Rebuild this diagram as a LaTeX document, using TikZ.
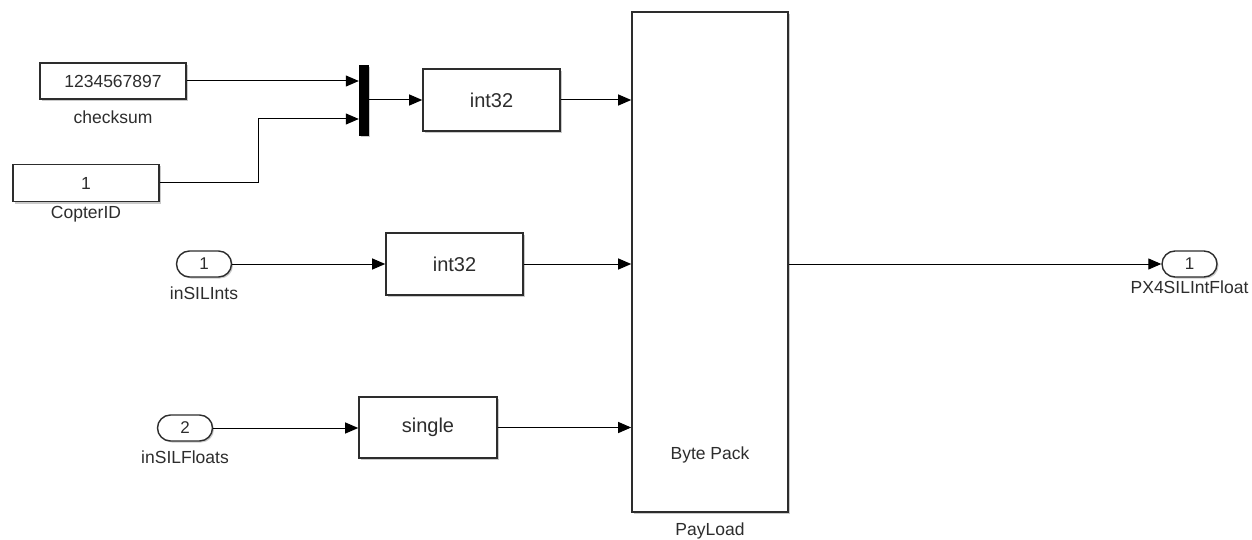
\documentclass[tikz,border=0pt]{standalone}
\usepackage{fontspec}
\setmainfont{Liberation Sans}
\usepackage{xcolor}
\usepackage{tikz}
\usetikzlibrary{arrows.meta,positioning,shapes.misc,shadows,calc}
\definecolor{encre}{RGB}{45,45,45}
\definecolor{ombre}{RGB}{150,150,150}
\tikzset{
  blk/.style={draw=encre,line width=1.6pt,fill=white,rectangle,inner sep=0pt,
              drop shadow={shadow xshift=2pt,shadow yshift=-2pt,fill=ombre,opacity=.5},
              font=\fontsize{20}{24}\selectfont,text=encre},
  port/.style={draw=encre,line width=1.4pt,fill=white,rounded rectangle,inner sep=0pt,
               minimum width=55pt,minimum height=26pt,
               drop shadow={shadow xshift=1.5pt,shadow yshift=-1.5pt,fill=ombre,opacity=.5},
               font=\fontsize{17}{20}\selectfont,text=encre},
  lbl/.style={font=\fontsize{17.5}{20}\selectfont,text=encre,inner sep=0pt},
  sig/.style={line width=1pt,draw=black,-{Triangle[length=13pt,width=11pt]}},
  wire/.style={line width=1pt,draw=black}
}

\begin{document}
\begin{tikzpicture}[x=1pt,y=-1pt]
  \useasboundingbox[fill=white] (0,0) rectangle (1252,540);
  % constants
  \node[blk,minimum width=146pt,minimum height=36pt,font=\fontsize{17.5}{20}\selectfont] (chk) at (113,81) {1234567897};
  \node[lbl] (chklbl) at (113,117) {checksum};
  \node[blk,minimum width=146pt,minimum height=37pt,font=\fontsize{17.5}{20}\selectfont] (cid) at (86,183) {1};
  \node[lbl] (cidlbl) at (86,214) {CopterID};
  % mux
  \node[draw=black,fill=black,minimum width=9pt,minimum height=70pt,inner sep=0pt,
        drop shadow={shadow xshift=2pt,shadow yshift=-2pt,fill=ombre,opacity=.5}] (mux) at (363.5,100) {};
  \coordinate (muxin) at ($(mux.west)+(0,19)$);
  % inports
  \node[port] (in1) at (204,264) {1};
  \node[lbl] (in1lbl) at (204,293) {inSILInts};
  \node[port] (in2) at (185,428) {2};
  \node[lbl] (in2lbl) at (185,457) {inSILFloats};
  % conversions
  \node[blk,minimum width=137pt,minimum height=62pt] (cvtA) at (491.5,100) {int32};
  \node[blk,minimum width=137pt,minimum height=62pt] (cvtB) at (454.5,264) {int32};
  \node[blk,minimum width=138pt,minimum height=61pt] (cvtC) at (428,427.5) {single};
  % byte pack
  \node[blk,minimum width=156pt,minimum height=500pt] (pack) at (710,262) {};
  \node[lbl] (packtxt) at (710,455) {Byte Pack};
  \node[lbl] (packlbl) at (710,531) {PayLoad};
  % outport
  \node[port] (out1) at (1189.5,264) {1};
  \node[lbl] (out1lbl) at (1189.5,287) {PX4SILIntFloat};
  % lines
  \draw[sig] (chk.east) -- (mux.west |- chk.east);
  \draw[sig] (cid.east) -- ++(99,0) |- (muxin);
  \draw[sig] (mux.east) -- (cvtA.west);
  \draw[sig] (in1.east) -- (cvtB.west);
  \draw[sig] (in2.east) -- (cvtC.west |- in2.east);
  \draw[sig] (cvtA.east) -- (pack.west |- cvtA.east);
  \draw[sig] (cvtB.east) -- (pack.west |- cvtB.east);
  \draw[sig] (cvtC.east) -- (pack.west |- cvtC.east);
  \draw[sig] (pack.east |- out1.west) -- (out1.west);
\end{tikzpicture}
\end{document}
